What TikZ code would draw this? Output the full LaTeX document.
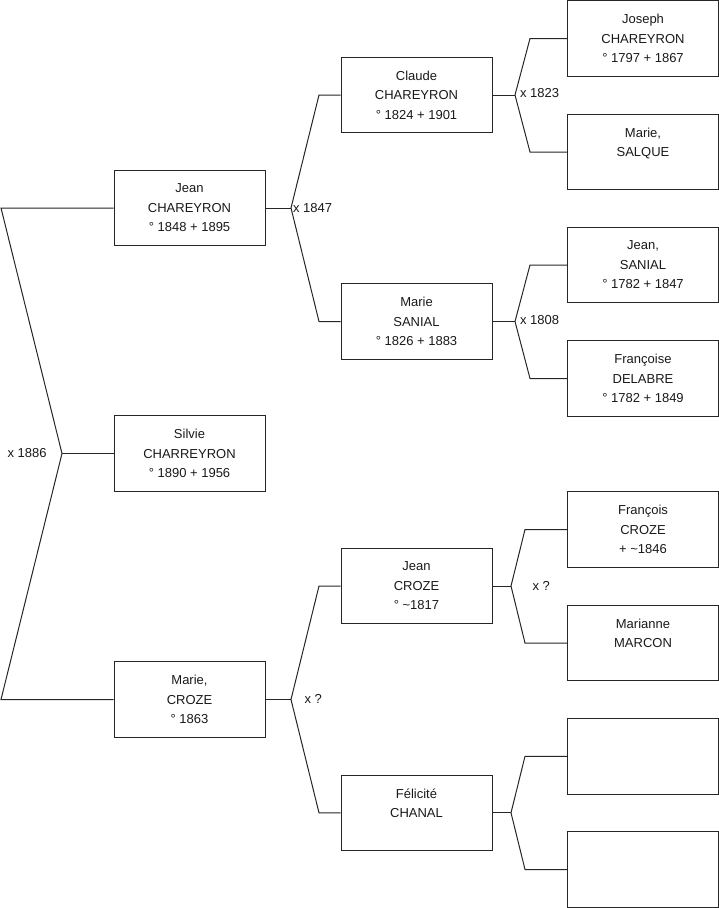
\documentclass[tikz,border=0pt]{standalone}
\usepackage{fontspec}
\setmainfont{Liberation Sans}
\begin{document}
\begin{tikzpicture}[x=1pt,y=-1pt,line width=1pt,
  person/.style={draw=black!85,minimum width=151pt,minimum height=75.5pt,inner sep=0pt,align=center,
    font=\fontsize{13}{19.5}\selectfont,text=black!90},
  lbl/.style={anchor=west,inner sep=0pt,font=\fontsize{13}{15}\selectfont,text=black!90},
  link/.style={draw=black!85}]
\useasboundingbox (0,0) rectangle (719,908);
% generation 1
\node[person] (jean)   at (189.5,208)   {Jean\\CHAREYRON\\° 1848 + 1895};
\node[person] (silvie) at (189.5,453.5) {Silvie\\CHARREYRON\\° 1890 + 1956};
\node[person] (mariec) at (189.5,699.5) {Marie,\\CROZE\\° 1863};
% generation 2
\node[person] (claude)   at (416.5,95)    {Claude\\CHAREYRON\\° 1824 + 1901};
\node[person] (sanial)   at (416.5,321.5) {Marie\\SANIAL\\° 1826 + 1883};
\node[person] (jeanc)    at (416.5,586)   {Jean\\CROZE\\° \textasciitilde1817};
\node[person] (felicite) at (416.5,812.8) {Félicité\\CHANAL\\~};
% generation 3
\node[person] (joseph)    at (643,38.5)  {Joseph\\CHAREYRON\\° 1797 + 1867};
\node[person] (salque)    at (643,152)   {Marie,\\SALQUE\\~};
\node[person] (jeans)     at (643,265)   {Jean,\\SANIAL\\° 1782 + 1847};
\node[person] (francoise) at (643,378.5) {Françoise\\DELABRE\\° 1782 + 1849};
\node[person] (francois)  at (643,529.5) {François\\CROZE\\+ \textasciitilde1846};
\node[person] (marianne)  at (643,643)   {Marianne\\MARCON\\~};
\node[person] (empty1)    at (643,756.3) {};
\node[person] (empty2)    at (643,869.5) {};
% fork generation 1
\coordinate (l1t) at (1,208);
\coordinate (a1)  at (62,453.5);
\coordinate (l1b) at (1,699.5);
\draw[link] (jean.west) -- (l1t) -- (a1) -- (l1b) -- (mariec.west);
\draw[link] (a1) -- (silvie.west);
\node[lbl] (m1886) at (7,453) {x 1886};
% forks generation 2
\coordinate (a2) at (291,208);
\coordinate (a2t) at (319,95);
\coordinate (a2b) at (319,321.5);
\draw[link] (jean.east) -- (a2);
\draw[link] (claude.west) -- (a2t) -- (a2) -- (a2b) -- (sanial.west);
\node[lbl] (m1847) at (292.5,208) {x 1847};
\coordinate (a3) at (291,699.5);
\coordinate (a3t) at (319,586);
\coordinate (a3b) at (319,812.8);
\draw[link] (mariec.east) -- (a3);
\draw[link] (jeanc.west) -- (a3t) -- (a3) -- (a3b) -- (felicite.west);
\node[lbl] (mq1) at (304,699) {x ?};
% forks generation 3
\coordinate (a4) at (515,95);
\coordinate (a4t) at (530,38.5);
\coordinate (a4b) at (530,152);
\draw[link] (claude.east) -- (a4);
\draw[link] (joseph.west) -- (a4t) -- (a4) -- (a4b) -- (salque.west);
\node[lbl] (m1823) at (519.5,93) {x 1823};
\coordinate (a5) at (515,321.5);
\coordinate (a5t) at (530,265);
\coordinate (a5b) at (530,378.5);
\draw[link] (sanial.east) -- (a5);
\draw[link] (jeans.west) -- (a5t) -- (a5) -- (a5b) -- (francoise.west);
\node[lbl] (m1808) at (519.5,320) {x 1808};
\coordinate (a6) at (511,586);
\coordinate (a6t) at (525,529.5);
\coordinate (a6b) at (525,643);
\draw[link] (jeanc.east) -- (a6);
\draw[link] (francois.west) -- (a6t) -- (a6) -- (a6b) -- (marianne.west);
\node[lbl] (mq2) at (532,586) {x ?};
\coordinate (a7) at (511,812.8);
\coordinate (a7t) at (525,756.3);
\coordinate (a7b) at (525,869.5);
\draw[link] (felicite.east) -- (a7);
\draw[link] (empty1.west) -- (a7t) -- (a7) -- (a7b) -- (empty2.west);
\end{tikzpicture}
\end{document}
